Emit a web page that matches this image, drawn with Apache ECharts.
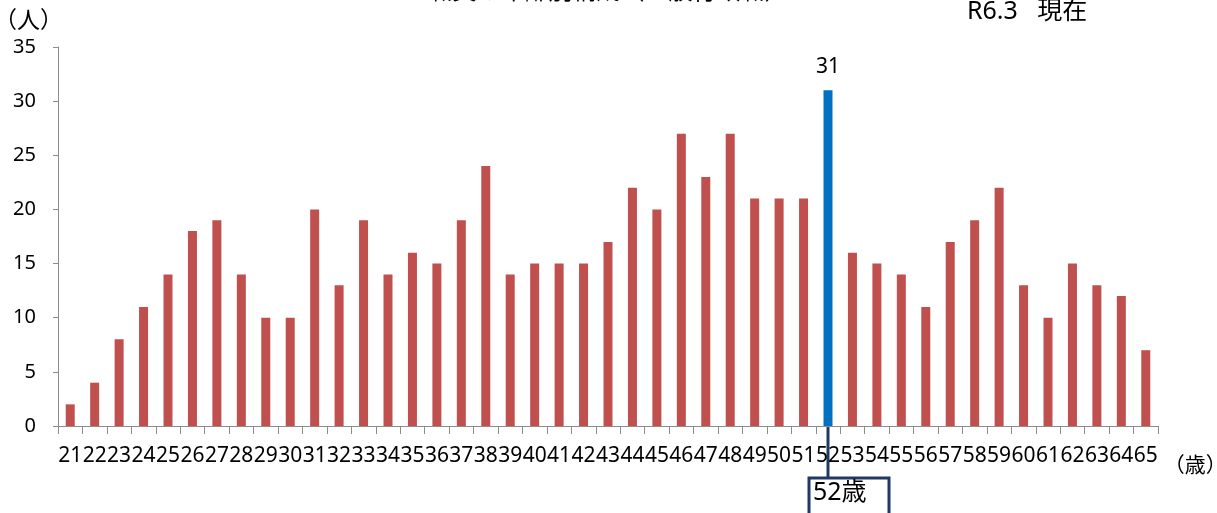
<!DOCTYPE html>
<html>
<head>
    <meta charset="utf-8">
    <title>年齢別職員数</title>
    <script src="https://cdn.jsdelivr.net/npm/echarts@6/dist/echarts.min.js"></script>
    <style>
        html, body { margin: 0; padding: 0; background: #fff; }
        #main { width: 1217px; height: 513px; }
    </style>
</head>
<body>
<div id="main"></div>
<script>
    // 年齢（カテゴリ）
    var ages = ['21', '22', '23', '24', '25', '26', '27', '28', '29', '30',
        '31', '32', '33', '34', '35', '36', '37', '38', '39', '40',
        '41', '42', '43', '44', '45', '46', '47', '48', '49', '50',
        '51', '52', '53', '54', '55', '56', '57', '58', '59', '60',
        '61', '62', '63', '64', '65'];
    // 人数
    var counts = [2, 4, 8, 11, 14, 18, 19, 14, 10, 10,
        20, 13, 19, 14, 16, 15, 19, 24, 14, 15,
        15, 15, 17, 22, 20, 27, 23, 27, 21, 21,
        21, 31, 16, 15, 14, 11, 17, 19, 22, 13,
        10, 15, 13, 12, 7];
    var highlightAge = '52';
    var yTicks = [0, 5, 10, 15, 20, 25, 30, 35];

    var font = '"Noto Sans", "Noto Sans CJK JP", sans-serif';

    var barData = ages.map(function (a, i) {
        if (a === highlightAge) {
            return {
                value: counts[i],
                itemStyle: {color: '#0070C0'},
                label: {show: true, position: 'top', distance: 13, fontSize: 21, color: '#000', fontFamily: font}
            };
        }
        return counts[i];
    });

    var chart = echarts.init(document.getElementById('main'));
    chart.setOption({
        animation: false,
        title: {
            text: '職員の年齢別構成（一般行政職）',
            left: 'center',
            top: -25,
            textStyle: {fontSize: 24, fontWeight: 'normal', color: '#000', fontFamily: font}
        },
        grid: {left: 58, right: 59, top: 47, bottom: 87, outerBoundsMode: 'none'},
        xAxis: {
            type: 'category',
            data: ages,
            name: '（歳）',
            nameLocation: 'end',
            nameGap: 0,
            nameTextStyle: {fontSize: 21, color: '#000', fontFamily: font, verticalAlign: 'top', padding: [30, 0, 0, 0]},
            axisLine: {lineStyle: {color: '#8c8c8c', width: 1}},
            axisTick: {show: true, length: 8, lineStyle: {color: '#8c8c8c'}},
            axisLabel: {interval: 0, fontSize: 21, color: '#000', margin: 20, fontFamily: font}
        },
        yAxis: {
            type: 'value',
            min: yTicks[0],
            max: yTicks[yTicks.length - 1],
            interval: 5,
            name: '（人）',
            nameLocation: 'end',
            nameGap: 14,
            nameTextStyle: {fontSize: 23, color: '#000', fontFamily: font, align: 'left', padding: [0, 0, 0, -64]},
            splitLine: {show: false},
            axisLine: {show: true, lineStyle: {color: '#8c8c8c', width: 1}},
            axisTick: {show: true, length: 5, lineStyle: {color: '#8c8c8c'}},
            axisLabel: {fontSize: 20, color: '#000', margin: 22, fontFamily: font}
        },
        series: [{
            type: 'bar',
            data: barData,
            barWidth: 9,
            itemStyle: {color: '#C0504D'}
        }]
    });

    // 注記（R6.3 現在 と 52歳の吹き出し）
    var px = chart.convertToPixel({xAxisIndex: 0}, highlightAge);
    var py = chart.convertToPixel({yAxisIndex: 0}, 0);
    chart.setOption({
        graphic: [{
            type: 'text',
            x: 967,
            y: -1,
            style: {text: 'R6.3   現在', font: '25px ' + font, fill: '#000'}
        }, {
            type: 'line',
            shape: {x1: px, y1: py, x2: px, y2: py + 52},
            style: {stroke: '#1F3864', lineWidth: 3}
        }, {
            type: 'rect',
            shape: {x: px - 19, y: py + 52, width: 80, height: 50},
            style: {fill: '#fff', stroke: '#1F3864', lineWidth: 3}
        }, {
            type: 'text',
            x: px - 15,
            y: py + 54,
            style: {text: '52歳', font: '25px ' + font, fill: '#000'}
        }]
    });
</script>
</body>
</html>
